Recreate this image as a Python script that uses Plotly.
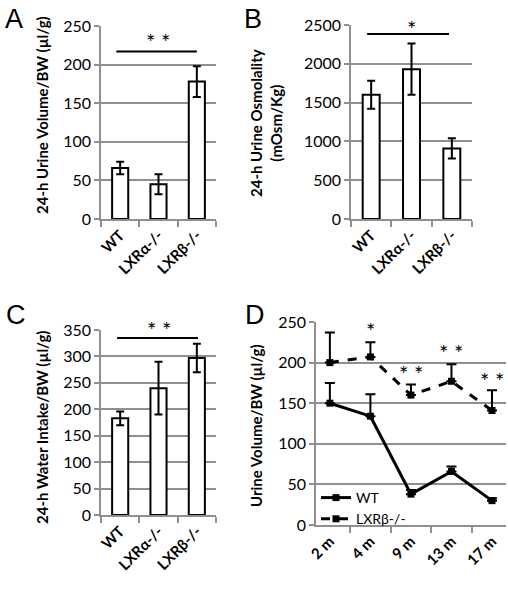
import plotly.graph_objects as go

W, H = 508, 592

genotypes = ["WT", "LXRα-/-", "LXRβ-/-"]
urine_vol = [66, 45, 178]
urine_vol_err = [8, 13, 20]
osmolality = [1600, 1930, 910]
osmolality_err = [180, 330, 130]
water_intake = [183, 240, 297]
water_intake_err = [13, 50, 27]

ages = ["2 m", "4 m", "9 m", "13 m", "17 m"]
wt_vol = [150, 134, 38, 66, 30]
wt_vol_err = [25, 27, 5, 6, 3]
ko_vol = [200, 207, 160, 177, 141]
ko_vol_err = [37, 18, 13, 21, 25]
d_stars = ["", "*", "* *", "* *", "* *"]
d_star_y = [None, 240, 187, 212, 178]

GRID = "#8f8f8f"
FONT = "Lato"


def px(x):
    return x / W


def py(y):
    return 1 - y / H


fig = go.Figure()

bar_panels = [
    (urine_vol, urine_vol_err, "x", "y"),
    (osmolality, osmolality_err, "x2", "y2"),
    (water_intake, water_intake_err, "x3", "y3"),
]
for vals, errs, xa, ya in bar_panels:
    fig.add_trace(go.Bar(
        x=genotypes, y=vals, xaxis=xa, yaxis=ya, width=0.42,
        marker=dict(color="white", line=dict(color="black", width=2)),
        error_y=dict(type="data", array=errs, color="black", thickness=2, width=4),
        showlegend=False,
    ))

fig.add_trace(go.Scatter(
    x=ages, y=wt_vol, xaxis="x4", yaxis="y4", name="WT", mode="lines+markers",
    line=dict(color="black", width=3),
    marker=dict(symbol="square", size=7, color="black"),
    error_y=dict(type="data", symmetric=False, array=wt_vol_err,
                 arrayminus=[0] * len(wt_vol), color="black", thickness=2, width=5),
))
fig.add_trace(go.Scatter(
    x=ages, y=ko_vol, xaxis="x4", yaxis="y4", name="LXRβ-/-", mode="lines+markers",
    line=dict(color="black", width=3, dash="dash"),
    marker=dict(symbol="square", size=7, color="black"),
    error_y=dict(type="data", symmetric=False, array=ko_vol_err,
                 arrayminus=[0] * len(ko_vol), color="black", thickness=2, width=5),
))

# panel domains in pixels: (x0, x1, ytop, ybottom)
doms = {
    1: (101, 216, 26, 219),
    2: (351, 472, 25, 219),
    3: (101, 216, 330, 515),
    4: (316, 506, 322, 525),
}
ranges = {1: [0, 250], 2: [0, 2500], 3: [0, 350], 4: [0, 250]}
dticks = {1: 50, 2: 500, 3: 50, 4: 50}

layout = dict(
    template="none",
    width=W, height=H, margin=dict(l=0, r=0, t=0, b=0, pad=0, autoexpand=False),
    paper_bgcolor="white", plot_bgcolor="white",
    font=dict(family=FONT, color="black"),
    showlegend=True,
    legend=dict(x=px(316), y=py(482), xanchor="left", yanchor="top",
                bgcolor="rgba(0,0,0,0)", borderwidth=0,
                font=dict(size=14, family=FONT, color="black"),
                tracegroupgap=0),
)
for i, (x0, x1, yt, yb) in doms.items():
    s = "" if i == 1 else str(i)
    layout["xaxis" + s] = dict(
        domain=[px(x0), px(x1)], anchor="y" + s, type="category", automargin=False,
        showline=True, linecolor=GRID, linewidth=1.5,
        ticks="outside", ticklen=6, tickcolor=GRID, tickwidth=1.5,
        tickson="boundaries", tickangle=-45, showgrid=False, zeroline=False,
        tickfont=dict(size=15, family=FONT, weight="bold", color="black"),
    )
    layout["yaxis" + s] = dict(
        domain=[py(yb), py(yt)], anchor="x" + s, range=ranges[i], dtick=dticks[i],
        automargin=False,
        showline=True, linecolor=GRID, linewidth=1.5,
        showgrid=True, gridcolor=GRID, gridwidth=1.5,
        ticks="outside", ticklen=5, tickcolor=GRID, tickwidth=1.5,
        tickfont=dict(size=16, family=FONT, color="black"), zeroline=False,
    )
fig.update_layout(**layout)

shapes = [
    dict(type="line", xref="x", yref="y", x0=-0.1, x1=2.0, y0=217, y1=217,
         line=dict(color="black", width=2)),
    dict(type="line", xref="x2", yref="y2", x0=-0.1, x1=1.93, y0=2384, y1=2384,
         line=dict(color="black", width=2)),
    dict(type="line", xref="x3", yref="y3", x0=-0.08, x1=2.03, y0=335, y1=335,
         line=dict(color="black", width=2)),
]
fig.update_layout(shapes=shapes)

STAR = dict(size=22, family=FONT, color="black")
ann = []
# significance stars
ann.append(dict(xref="x", yref="y", x=0.99, y=230, text="* *", showarrow=False, font=STAR))
ann.append(dict(xref="x2", yref="y2", x=0.99, y=2460, text="*", showarrow=False, font=STAR))
ann.append(dict(xref="x3", yref="paper", x=1.0, y=py(329), text="* *", showarrow=False,
                font=STAR))
for i, (t, yv) in enumerate(zip(d_stars, d_star_y)):
    if t:
        ann.append(dict(xref="x4", yref="y4", x=i, y=yv, text=t, showarrow=False, font=STAR))

# panel letters
for letter, (lx, ly) in {"A": (3, 2), "B": (242, 2), "C": (4, 298), "D": (243, 298)}.items():
    ann.append(dict(xref="paper", yref="paper", x=px(lx), y=py(ly), xanchor="left",
                    yanchor="top", text=letter, showarrow=False,
                    font=dict(size=27, family="Liberation Sans", color="black")))

# axis titles
titles = [
    ("24-h Urine Volume/BW (µl/g)", 42, 115),
    ("24-h Urine Osmolality<br>(mOsm/Kg)", 266, 123),
    ("24-h Water Intake/BW (µl/g)", 42, 428),
    ("Urine Volume/BW (µl/g)", 256, 426),
]
for t, tx, ty in titles:
    ann.append(dict(xref="paper", yref="paper", x=px(tx), y=py(ty), text="<b>" + t + "</b>",
                    textangle=-90, showarrow=False, xanchor="center", yanchor="middle",
                    font=dict(size=15, family=FONT, color="black")))
fig.update_layout(annotations=ann)

fig.write_html("out.html", config={"displayModeBar": False},
               post_script="document.body.style.margin='0';document.body.style.overflow='hidden';")
